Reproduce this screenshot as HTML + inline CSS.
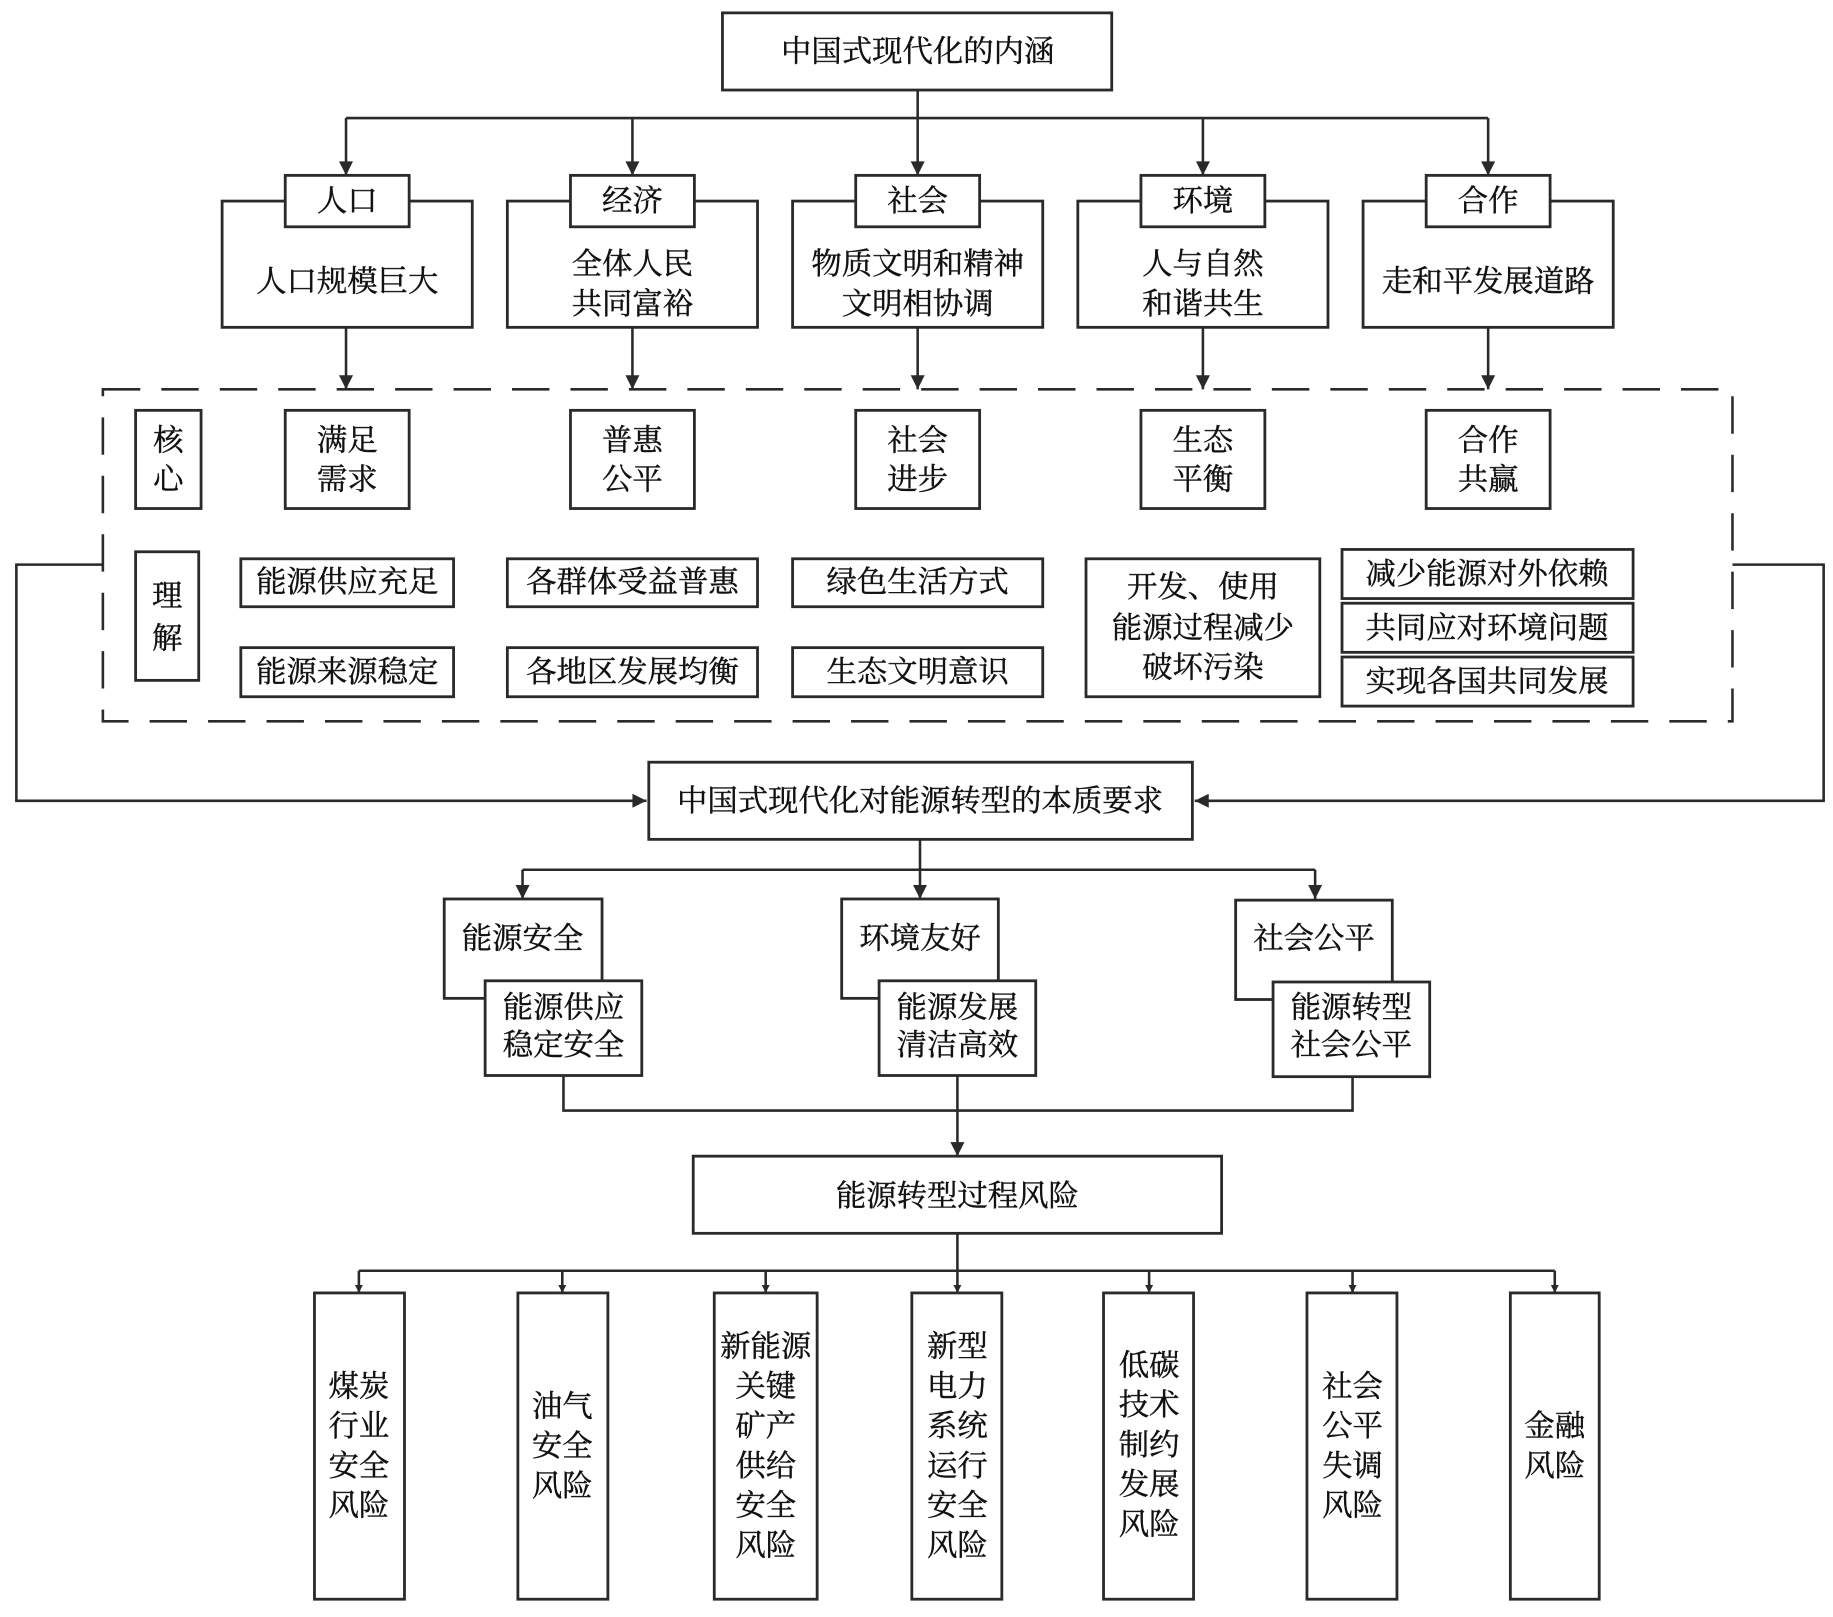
<!DOCTYPE html>
<html><head><meta charset="utf-8"><style>
html,body{margin:0;padding:0;background:#fff;}
svg{display:block;}
text{font-family:"Liberation Serif","Noto Serif CJK SC","Noto Sans CJK SC",serif;fill:#111;stroke:#111;stroke-width:0.35;font-size:26px;text-anchor:middle;dominant-baseline:central;}
.b{fill:#fff;stroke:#2a2a2a;stroke-width:2.4;}
.l{fill:none;stroke:#2a2a2a;stroke-width:2.2;}
</style></head><body>
<svg width="1833" height="1617" viewBox="0 0 1568 1383.2" xmlns="http://www.w3.org/2000/svg">
<defs><marker id="a" viewBox="0 0 10 10" refX="10" refY="5" markerWidth="7" markerHeight="7" markerUnits="userSpaceOnUse" orient="auto"><path d="M0,0 L10,5 L0,10 z" fill="#2a2a2a"/></marker>
<marker id="A" viewBox="0 0 10 10" refX="10" refY="5" markerWidth="16" markerHeight="12" markerUnits="userSpaceOnUse" orient="auto"><path d="M0,0 L10,5 L0,10 z" fill="#2a2a2a"/></marker></defs>

<rect class="b" x="618" y="11" width="333" height="66"/>
<text x="785" y="44">中国式现代化的内涵</text>
<path class="l" d="M785 77V101M296 101H1273"/>
<g class="l">
<path d="M296 101V150" marker-end="url(#A)"/><path d="M541 101V150" marker-end="url(#A)"/><path d="M785 101V150" marker-end="url(#A)"/><path d="M1029 101V150" marker-end="url(#A)"/><path d="M1273 101V150" marker-end="url(#A)"/>
<path d="M296 280V333" marker-end="url(#A)"/><path d="M541 280V333" marker-end="url(#A)"/><path d="M785 280V333" marker-end="url(#A)"/><path d="M1029 280V333" marker-end="url(#A)"/><path d="M1273 280V333" marker-end="url(#A)"/>
</g>
<rect class="b" x="190" y="172" width="214" height="108"/><rect class="b" x="244" y="150" width="106" height="44"/><text x="297" y="172">人口</text><text x="297" y="241">人口规模巨大</text>
<rect class="b" x="434" y="172" width="214" height="108"/><rect class="b" x="488" y="150" width="106" height="44"/><text x="541" y="172">经济</text><text x="541" y="226">全体人民</text><text x="541" y="260">共同富裕</text>
<rect class="b" x="678" y="172" width="214" height="108"/><rect class="b" x="732" y="150" width="106" height="44"/><text x="785" y="172">社会</text><text x="785" y="226">物质文明和精神</text><text x="785" y="260">文明相协调</text>
<rect class="b" x="922" y="172" width="214" height="108"/><rect class="b" x="976" y="150" width="106" height="44"/><text x="1029" y="172">环境</text><text x="1029" y="226">人与自然</text><text x="1029" y="260">和谐共生</text>
<rect class="b" x="1166" y="172" width="214" height="108"/><rect class="b" x="1220" y="150" width="106" height="44"/><text x="1273" y="172">合作</text><text x="1273" y="241">走和平发展道路</text>

<rect x="88" y="333" width="1394" height="284" fill="none" stroke="#2a2a2a" stroke-width="2.2" stroke-dasharray="32 18"/>
<rect class="b" x="116" y="351" width="56" height="84"/><text x="144" y="377">核</text><text x="144" y="410">心</text>
<rect class="b" x="244" y="351" width="106" height="84"/><text x="297" y="377">满足</text><text x="297" y="410">需求</text>
<rect class="b" x="488" y="351" width="106" height="84"/><text x="541" y="377">普惠</text><text x="541" y="410">公平</text>
<rect class="b" x="732" y="351" width="106" height="84"/><text x="785" y="377">社会</text><text x="785" y="410">进步</text>
<rect class="b" x="976" y="351" width="106" height="84"/><text x="1029" y="377">生态</text><text x="1029" y="410">平衡</text>
<rect class="b" x="1220" y="351" width="106" height="84"/><text x="1273" y="377">合作</text><text x="1273" y="410">共赢</text>

<rect class="b" x="116" y="472" width="54" height="110"/><text x="143" y="510">理</text><text x="143" y="546">解</text>
<rect class="b" x="206" y="478" width="182" height="41"/><text x="297" y="498">能源供应充足</text>
<rect class="b" x="206" y="554" width="182" height="42"/><text x="297" y="575">能源来源稳定</text>
<rect class="b" x="434" y="478" width="214" height="41"/><text x="541" y="498">各群体受益普惠</text>
<rect class="b" x="434" y="554" width="214" height="42"/><text x="541" y="575">各地区发展均衡</text>
<rect class="b" x="678" y="478" width="214" height="41"/><text x="785" y="498">绿色生活方式</text>
<rect class="b" x="678" y="554" width="214" height="42"/><text x="785" y="575">生态文明意识</text>
<rect class="b" x="929" y="478" width="200" height="118"/><text x="1029" y="502">开发、使用</text><text x="1029" y="537">能源过程减少</text><text x="1029" y="571">破坏污染</text>
<rect class="b" x="1148" y="470" width="249" height="42"/><text x="1272" y="491">减少能源对外依赖</text>
<rect class="b" x="1148" y="516" width="249" height="42"/><text x="1272" y="537">共同应对环境问题</text>
<rect class="b" x="1148" y="562" width="249" height="42"/><text x="1272" y="583">实现各国共同发展</text>

<path class="l" d="M88 483H14V685H553" marker-end="url(#A)"/>
<path class="l" d="M1482 483H1560V685H1022" marker-end="url(#A)"/>
<rect class="b" x="555" y="652" width="465" height="66"/>
<text x="787" y="685">中国式现代化对能源转型的本质要求</text>

<path class="l" d="M787 718V744M447 744H1125"/>
<path class="l" d="M447 744V769" marker-end="url(#A)"/><path class="l" d="M787 744V769" marker-end="url(#A)"/><path class="l" d="M1125 744V769" marker-end="url(#A)"/>
<rect class="b" x="380" y="769" width="135" height="85"/><text x="447" y="803">能源安全</text>
<rect class="b" x="415" y="839" width="134" height="81"/><text x="482" y="862">能源供应</text><text x="482" y="894">稳定安全</text>
<rect class="b" x="720" y="769" width="134" height="85"/><text x="787" y="803">环境友好</text>
<rect class="b" x="752" y="839" width="134" height="81"/><text x="819" y="862">能源发展</text><text x="819" y="894">清洁高效</text>
<rect class="b" x="1057" y="770" width="134" height="85"/><text x="1124" y="803">社会公平</text>
<rect class="b" x="1089" y="840" width="134" height="81"/><text x="1156" y="862">能源转型</text><text x="1156" y="894">社会公平</text>
<path class="l" d="M482 920V950H1157V921M819 920V950"/>
<path class="l" d="M819 950V989" marker-end="url(#A)"/>
<rect class="b" x="593" y="989" width="452" height="66"/>
<text x="819" y="1023">能源转型过程风险</text>
<path class="l" d="M819 1055V1087M307 1087H1330"/>
<g class="l">
<path d="M307 1087V1106" marker-end="url(#a)"/><path d="M481 1087V1106" marker-end="url(#a)"/><path d="M655 1087V1106" marker-end="url(#a)"/><path d="M819 1087V1106" marker-end="url(#a)"/><path d="M983 1087V1106" marker-end="url(#a)"/><path d="M1157 1087V1106" marker-end="url(#a)"/><path d="M1330 1087V1106" marker-end="url(#a)"/>
</g>
<rect class="b" x="269" y="1106" width="77" height="262"/>
<text x="307" y="1186">煤炭</text><text x="307" y="1220">行业</text><text x="307" y="1254">安全</text><text x="307" y="1288">风险</text>
<rect class="b" x="443" y="1106" width="77" height="262"/>
<text x="481" y="1203">油气</text><text x="481" y="1237">安全</text><text x="481" y="1271">风险</text>
<rect class="b" x="611" y="1106" width="88" height="262"/>
<text x="655" y="1152">新能源</text><text x="655" y="1186">关键</text><text x="655" y="1220">矿产</text><text x="655" y="1254">供给</text><text x="655" y="1288">安全</text><text x="655" y="1322">风险</text>
<rect class="b" x="780" y="1106" width="77" height="262"/>
<text x="819" y="1152">新型</text><text x="819" y="1186">电力</text><text x="819" y="1220">系统</text><text x="819" y="1254">运行</text><text x="819" y="1288">安全</text><text x="819" y="1322">风险</text>
<rect class="b" x="944" y="1106" width="77" height="262"/>
<text x="983" y="1168">低碳</text><text x="983" y="1202">技术</text><text x="983" y="1236">制约</text><text x="983" y="1270">发展</text><text x="983" y="1304">风险</text>
<rect class="b" x="1118" y="1106" width="77" height="262"/>
<text x="1157" y="1186">社会</text><text x="1157" y="1220">公平</text><text x="1157" y="1254">失调</text><text x="1157" y="1288">风险</text>
<rect class="b" x="1292" y="1106" width="76" height="262"/>
<text x="1330" y="1220">金融</text><text x="1330" y="1254">风险</text>
</svg>
</body></html>
